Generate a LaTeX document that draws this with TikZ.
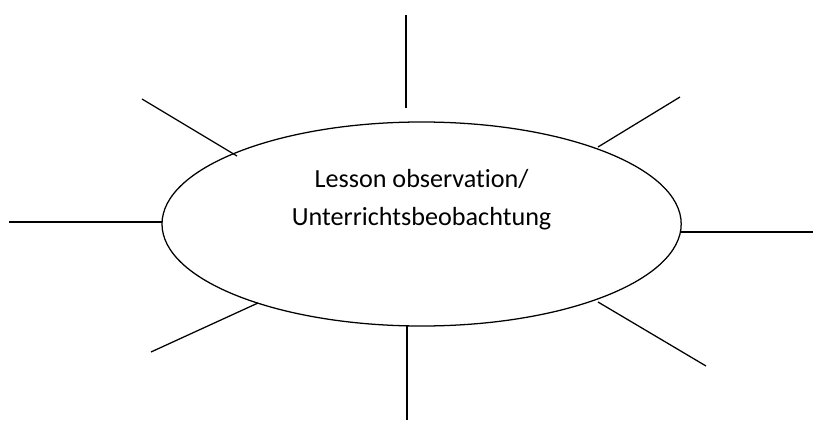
\documentclass[tikz,border=0pt]{standalone}
\usepackage{fontspec}
\setmainfont[Ligatures=NoCommon]{Carlito}
\usetikzlibrary{shapes,positioning,calc}

\begin{document}
\begin{tikzpicture}[spoke/.style={line width=0.9pt}]
		\useasboundingbox (0,0) rectangle (20.325,10.5);
		
		% central topic
		\node[draw, ellipse, line width=0.9pt, minimum width=12.98cm, minimum height=5.1cm, inner sep=0pt] (obs) at (10.54,4.9) {};
		\node[align=center, font=\fontsize{18.6}{27}\selectfont] (topic) at (10.54,5.5) {Lesson observation/\\Unterrichtsbeobachtung};
		
		% free ends of the spokes
		\coordinate (n1) at (10.15,10.125);  \coordinate (n2) at (10.15,7.8);
		\coordinate (s1) at (10.175,0);      \coordinate (s2) at (10.175,2.35);
		\coordinate (w1) at (0.225,4.95);    \coordinate (w2) at (4.05,4.95);
		\coordinate (e1) at (20.325,4.7);    \coordinate (e2) at (17.025,4.7);
		\coordinate (nw1) at (3.55,8.025);   \coordinate (nw2) at (5.925,6.6);
		\coordinate (ne1) at (17.0,8.075);   \coordinate (ne2) at (14.95,6.825);
		\coordinate (sw1) at (3.775,1.7);    \coordinate (sw2) at (6.45,2.925);
		\coordinate (se1) at (17.65,1.35);   \coordinate (se2) at (14.95,2.95);
		
		% spokes
		\foreach \d in {n,s,w,e,nw,ne,sw,se}
			\draw[spoke] (\d1) -- (\d2);
	\end{tikzpicture}
\end{document}
